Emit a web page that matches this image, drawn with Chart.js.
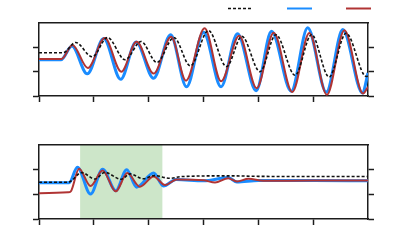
<!DOCTYPE html>
<html>
<head>
<meta charset="utf-8">
<script src="https://cdn.jsdelivr.net/npm/chart.js@4.4.1/dist/chart.umd.min.js"></script>
<style>
  html, body { margin: 0; padding: 0; background: #fff; }
  #wrap { position: relative; width: 407px; height: 244px; }
  .box { position: absolute; left: 0; width: 407px; }
  #top { top: 0; height: 110px; }
  #bot { top: 110px; height: 134px; }
</style>
</head>
<body>
<div id="wrap">
  <div class="box" id="top"><canvas id="c1" width="407" height="110"></canvas></div>
  <div class="box" id="bot"><canvas id="c2" width="407" height="134"></canvas></div>
</div>
<script>
// upper panel: growing oscillation
const topRefX = [0, 0.44, 0.67, 0.97, 1.25, 1.57, 1.86, 2.15, 2.46, 2.76, 3.09, 3.42, 3.7, 4.03, 4.32, 4.67, 4.97, 5.29, 5.6, 5.97, 6];
const topRefY = [1.78, 1.78, 2.2, 1.61, 2.4, 1.49, 2.24, 1.38, 2.4, 1.24, 2.69, 1.21, 2.45, 1.0, 2.52, 0.85, 2.52, 0.78, 2.58, 0.8, 0.82];

const topMeasX = [0, 0.4, 0.6, 0.88, 1.18, 1.49, 1.77, 2.09, 2.4, 2.69, 3.0, 3.32, 3.62, 3.96, 4.24, 4.6, 4.9, 5.24, 5.54, 5.9, 6];
const topMeasY = [1.49, 1.49, 2.05, 0.91, 2.36, 0.69, 2.22, 0.73, 2.52, 0.38, 2.62, 0.38, 2.56, 0.22, 2.66, 0.2, 2.8, 0.16, 2.73, 0.12, 0.95];

const topModelX = [0, 0.41, 0.61, 0.89, 1.2, 1.5, 1.78, 2.09, 2.41, 2.68, 3.02, 3.32, 3.65, 3.97, 4.28, 4.62, 4.93, 5.25, 5.57, 5.91, 6];
const topModelY = [1.52, 1.52, 2.1, 1.15, 2.38, 1.0, 2.23, 0.92, 2.43, 0.63, 2.78, 0.61, 2.48, 0.32, 2.6, 0.16, 2.59, 0.05, 2.7, 0.1, 0.38];

// lower panel: damped response, shaded interval
const botRefX = [0, 0.53, 0.78, 1.02, 1.2, 1.5, 1.66, 1.9, 2.1, 2.39, 2.6, 3.45, 4.0, 5.0, 6];
const botRefY = [1.49, 1.49, 1.88, 1.62, 1.89, 1.61, 1.83, 1.63, 1.76, 1.65, 1.72, 1.75, 1.73, 1.72, 1.72];

const botMeasX = [0, 0.55, 0.7, 0.94, 1.16, 1.4, 1.6, 1.78, 2.09, 2.27, 2.5, 3.0, 3.45, 3.61, 4.0, 5.0, 6];
const botMeasY = [1.47, 1.47, 2.1, 1.01, 2.02, 1.15, 2.0, 1.29, 1.86, 1.34, 1.6, 1.55, 1.68, 1.5, 1.56, 1.56, 1.55];

const botModelX = [0, 0.53, 0.58, 0.73, 0.94, 1.16, 1.4, 1.61, 1.84, 2.09, 2.3, 2.51, 3.0, 3.21, 3.45, 3.61, 3.82, 4.09, 5.0, 6];
const botModelY = [1.04, 1.08, 1.12, 2.04, 1.34, 1.97, 1.12, 1.86, 1.31, 1.72, 1.38, 1.6, 1.57, 1.48, 1.65, 1.52, 1.63, 1.55, 1.56, 1.56];

const bandFrom = 0.75;
const bandTo = 2.25;

const INK = '#1c1c1c';
const REF = '#111111';
const MEAS = '#1a8cff';
const MODEL = '#b03434';

const zip = (xs, ys) => xs.map((x, i) => ({ x, y: ys[i] }));

function series(xs, ys, refXs, refYs, modXs, modYs) {
  return [
    { data: zip(xs, ys), borderColor: REF, borderWidth: 1.6, borderDash: [3, 2], order: 0 },
    { data: zip(refXs, refYs), borderColor: MEAS, borderWidth: 3, order: 2 },
    { data: zip(modXs, modYs), borderColor: MODEL, borderWidth: 2, order: 1 }
  ].map(d => ({ ...d, pointRadius: 0, fill: false, cubicInterpolationMode: 'monotone' }));
}

const tickGrid = { drawOnChartArea: false, tickLength: 6, tickWidth: 1.5, tickColor: INK, color: INK };
const edge = { color: INK, width: 1.5 };

function frameScales(bottomSize) {
  const dropLast = max => s => { s.ticks = s.ticks.filter(t => t.value < max); };
  return {
    x: {
      type: 'linear', min: 0, max: 6,
      ticks: { stepSize: 1, display: false },
      grid: tickGrid, border: edge,
      afterBuildTicks: dropLast(6),
      afterFit: s => { s.height = bottomSize; }
    },
    xTop: {
      type: 'linear', position: 'top', min: 0, max: 6,
      ticks: { display: false }, grid: { display: false }, border: edge,
      afterFit: s => { s.height = 0; }
    },
    y: {
      type: 'linear', min: 0, max: 3,
      ticks: { stepSize: 1, display: false },
      grid: tickGrid, border: edge,
      afterBuildTicks: dropLast(3),
      afterFit: s => { s.width = 39; }
    },
    yRight: {
      type: 'linear', position: 'right', min: 0, max: 3,
      ticks: { stepSize: 1, display: false },
      grid: tickGrid, border: edge,
      afterBuildTicks: dropLast(3),
      afterFit: s => { s.width = 39; }
    }
  };
}

// shaded interval behind everything
const bandPlugin = {
  id: 'band',
  beforeDraw(chart, args, opts) {
    if (opts.to == null) return;
    const { ctx, chartArea, scales: { x } } = chart;
    const l = x.getPixelForValue(opts.from);
    const r = x.getPixelForValue(opts.to);
    ctx.save();
    ctx.fillStyle = opts.color;
    ctx.fillRect(l, chartArea.top, r - l, chartArea.bottom - chartArea.top);
    ctx.restore();
  }
};

// line-only legend (no labels in the figure)
const lineLegend = {
  id: 'lineLegend',
  afterDraw(chart, args, opts) {
    const { ctx } = chart;
    chart.data.datasets.forEach((ds, i) => {
      const x0 = opts.left + i * opts.step;
      ctx.save();
      ctx.strokeStyle = ds.borderColor;
      ctx.lineWidth = Math.min(ds.borderWidth, 2);
      ctx.setLineDash(ds.borderDash || []);
      ctx.beginPath();
      ctx.moveTo(x0, opts.y);
      ctx.lineTo(x0 + opts.length, opts.y);
      ctx.stroke();
      ctx.restore();
    });
  }
};

const common = {
  responsive: false,
  animation: false,
  events: [],
  plugins: { legend: { display: false }, tooltip: { enabled: false } }
};

new Chart(document.getElementById('c1'), {
  type: 'line',
  data: { datasets: series(topRefX, topRefY, topMeasX, topMeasY, topModelX, topModelY) },
  options: {
    ...common,
    layout: { padding: { top: 23 } },
    scales: frameScales(14),
    plugins: { ...common.plugins, lineLegend: { left: 228, step: 59, length: 25, y: 8.5 } }
  },
  plugins: [lineLegend]
});

new Chart(document.getElementById('c2'), {
  type: 'line',
  data: { datasets: series(botRefX, botRefY, botMeasX, botMeasY, botModelX, botModelY) },
  options: {
    ...common,
    layout: { padding: { top: 35 } },
    scales: frameScales(25),
    plugins: { ...common.plugins, band: { from: bandFrom, to: bandTo, color: '#cde6c9' } }
  },
  plugins: [bandPlugin]
});
</script>
</body>
</html>
